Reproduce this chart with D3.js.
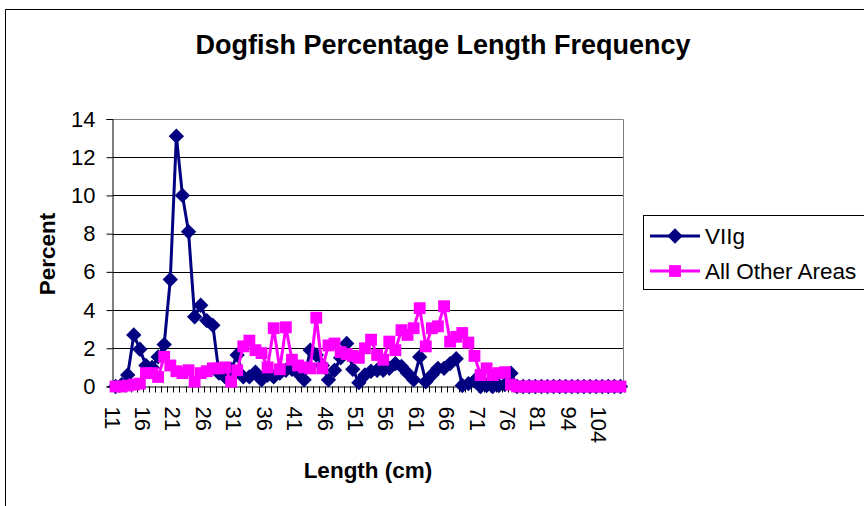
<!DOCTYPE html>
<html>
<head>
<meta charset="utf-8">
<script src="https://cdn.jsdelivr.net/npm/d3@7"></script>
<style>
  html, body { margin: 0; padding: 0; background: #fff; }
  svg { display: block; font-family: "Liberation Sans", Arial, sans-serif; }
</style>
</head>
<body>
<svg id="chart" width="864" height="506"></svg>
<script>
// Length classes (cm)
const lengths = [
  11,12,13,14,15,16,17,18,19,20,21,22,23,24,25,26,27,28,29,30,
  31,32,33,34,35,36,37,38,39,40,41,42,43,44,45,46,47,48,49,50,
  51,52,53,54,55,56,57,58,59,60,61,62,63,64,65,66,67,68,69,70,
  71,72,73,74,75,76,77,78,79,80,81,82,84,86,90,94,96,98,100,102,
  104,106,108,110
];

// Percentage of catch in each length class
const viig = [
  0,0.1,0.6,2.7,1.95,1.1,1.0,1.55,2.2,5.6,13.1,10.0,8.1,3.65,4.25,3.45,3.2,0.7,0.5,0.9,
  1.65,0.5,0.5,0.75,0.35,0.6,0.5,0.7,0.85,0.9,0.7,0.35,1.9,1.65,1.1,0.35,0.85,1.5,2.25,0.9,
  0.2,0.6,0.8,0.85,0.85,0.95,1.2,1.05,0.7,0.35,1.55,0.25,0.6,0.95,0.95,1.2,1.45,0.05,0.15,0.3,
  0,0.05,0,0.05,0.1,0.7,0,0,0,0,0,0,0,0,0,0,0,0,0,0,
  0,0,0,0
];
const otherAreas = [
  0,0,0.05,0.1,0.15,0.7,0.7,0.5,1.55,1.1,0.8,0.7,0.85,0.25,0.7,0.8,0.95,0.95,1.0,0.25,
  0.85,2.1,2.4,1.9,1.75,1.0,3.05,0.9,3.1,1.4,1.1,1.0,0.95,3.6,0.95,2.15,2.25,1.8,1.7,1.6,
  1.5,2.0,2.45,1.65,1.4,2.35,1.9,2.95,2.7,3.05,4.1,2.1,3.05,3.15,4.2,2.35,2.6,2.8,2.3,1.6,
  0.6,0.95,0.6,0.7,0.75,0.1,0,0,0,0,0,0,0,0,0,0,0,0,0,0,
  0,0,0,0
];

const xTickLabels = [11,16,21,26,31,36,41,46,51,56,61,66,71,76,81,94,104];
const yTicks = [0,2,4,6,8,10,12,14];

const seriesNames = ["VIIg", "All Other Areas"];
const seriesColors = ["#000080", "#FF00FF"];

const svg = d3.select("#chart");

// chart area frame
svg.append("path")
  .attr("d", "M5.5,512 V9.5 H870")
  .attr("fill", "none").attr("stroke", "#000").attr("stroke-width", 1);

// title
svg.append("text")
  .attr("x", 443).attr("y", 54)
  .attr("text-anchor", "middle")
  .attr("font-size", 27).attr("font-weight", "bold")
  .text("Dogfish Percentage Length Frequency");

const plot = { left: 112.5, right: 623.5, top: 119, bottom: 386.5 };

const x = d3.scaleBand().domain(lengths).range([plot.left, plot.right]).padding(0);
const y = d3.scaleLinear().domain([0, 14]).range([plot.bottom, plot.top]);
const cx = d => x(d) + x.bandwidth() / 2;

// gridlines
svg.append("g").selectAll("line")
  .data(yTicks.filter(v => v > 0 && v < 14))
  .join("line")
  .attr("x1", plot.left).attr("x2", plot.right)
  .attr("y1", d => Math.round(y(d)) + 0.5).attr("y2", d => Math.round(y(d)) + 0.5)
  .attr("stroke", "#000").attr("stroke-width", 1);

// plot area border (top and right)
svg.append("path")
  .attr("d", `M${plot.left},${plot.top + 0.5} H${plot.right} V${plot.bottom}`)
  .attr("fill", "none").attr("stroke", "#808080").attr("stroke-width", 1);

// y axis
const yAxis = svg.append("g")
  .attr("transform", `translate(${plot.left},0)`)
  .call(d3.axisLeft(y).tickValues(yTicks).tickSize(6).tickPadding(11).tickFormat(d3.format("d")));
yAxis.select(".domain").attr("stroke", "#000");
yAxis.selectAll(".tick line").attr("stroke", "#000");
yAxis.selectAll(".tick text")
  .attr("font-size", 22).attr("font-family", "Liberation Sans, Arial, sans-serif").attr("fill", "#000");

// x axis: tick marks at category boundaries
const boundaries = lengths.map(d => x(d)).concat([plot.right]);
svg.append("g").selectAll("line")
  .data(boundaries.slice(1))
  .join("line")
  .attr("x1", d => Math.round(d) + 0.5).attr("x2", d => Math.round(d) + 0.5)
  .attr("y1", plot.bottom).attr("y2", plot.bottom + 6)
  .attr("stroke", "#000");

// x axis labels, rotated
const xAxis = svg.append("g")
  .attr("transform", `translate(0,${plot.bottom})`)
  .call(d3.axisBottom(x).tickValues(xTickLabels).tickSize(0).tickPadding(0));
xAxis.select(".domain").remove();
xAxis.selectAll(".tick text")
  .attr("font-size", 22).attr("font-family", "Liberation Sans, Arial, sans-serif").attr("fill", "#000")
  .attr("text-anchor", "start")
  .attr("transform", "translate(-3,20) rotate(90)")
  .attr("x", 0).attr("y", 0).attr("dy", "0.36em");

// axis line along the bottom
svg.append("line")
  .attr("x1", plot.left).attr("x2", plot.right)
  .attr("y1", plot.bottom + 0.5).attr("y2", plot.bottom + 0.5)
  .attr("stroke", "#000");

// axis titles
svg.append("text")
  .attr("transform", `translate(55,254) rotate(-90)`)
  .attr("text-anchor", "middle")
  .attr("font-size", 22.5).attr("font-weight", "bold")
  .text("Percent");
svg.append("text")
  .attr("x", 368).attr("y", 478)
  .attr("text-anchor", "middle")
  .attr("font-size", 22.5).attr("font-weight", "bold")
  .text("Length (cm)");

// series
const series = [viig, otherAreas];
const line = d3.line().x((d, i) => cx(lengths[i])).y(d => y(d));
const diamond = d3.symbol().type(d3.symbolDiamond2 || d3.symbolDiamond).size(150);
const square = d3.symbol().type(d3.symbolSquare).size(140);
const symbols = [diamond, square];

series.forEach((vals, s) => {
  const g = svg.append("g");
  g.append("path")
    .attr("d", line(vals))
    .attr("fill", "none")
    .attr("stroke", seriesColors[s])
    .attr("stroke-width", 3)
    .attr("stroke-linejoin", "round");
  g.selectAll("path.mk")
    .data(vals)
    .join("path")
    .attr("class", "mk")
    .attr("d", symbols[s])
    .attr("transform", (d, i) => `translate(${cx(lengths[i])},${y(d)})`)
    .attr("fill", seriesColors[s]);
});

// legend
const legend = svg.append("g");
legend.append("rect")
  .attr("x", 643.5).attr("y", 215.5).attr("width", 240).attr("height", 74)
  .attr("fill", "#fff").attr("stroke", "#000");
const legendY = [236, 271];
seriesNames.forEach((name, s) => {
  legend.append("line")
    .attr("x1", 650).attr("x2", 700)
    .attr("y1", legendY[s]).attr("y2", legendY[s])
    .attr("stroke", seriesColors[s]).attr("stroke-width", 3);
  legend.append("path")
    .attr("d", symbols[s])
    .attr("transform", `translate(675,${legendY[s]})`)
    .attr("fill", seriesColors[s]);
  legend.append("text")
    .attr("x", 705).attr("y", legendY[s]).attr("dy", "0.36em")
    .attr("font-size", 22.5)
    .text(name);
});
</script>
</body>
</html>
